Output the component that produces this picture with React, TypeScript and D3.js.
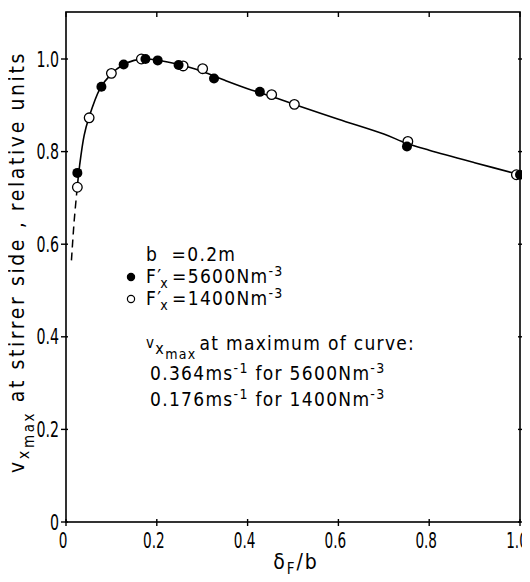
import React, { useEffect, useRef } from "react";
import * as d3 from "d3";

// measured points, 5600 N/m^3 (filled) and 1400 N/m^3 (open)
const filledX = [0.025, 0.078, 0.127, 0.175, 0.202, 0.248, 0.326, 0.427, 0.751, 1.0];
const filledY = [0.754, 0.94, 0.988, 1.0, 0.997, 0.987, 0.958, 0.929, 0.811, 0.75];
const openX = [0.025, 0.051, 0.1, 0.166, 0.258, 0.301, 0.453, 0.503, 0.753, 0.992];
const openY = [0.723, 0.873, 0.969, 1.0, 0.985, 0.979, 0.923, 0.902, 0.822, 0.75];

// fitted curve (solid) and its extrapolated start (dashed)
const curveX = [0.025, 0.03, 0.04, 0.05, 0.075, 0.1, 0.125, 0.15, 0.175, 0.2, 0.25, 0.3, 0.35, 0.4, 0.45, 0.5, 0.6, 0.7, 0.75, 0.8, 0.9, 1.0];
const curveY = [0.725, 0.77, 0.835, 0.872, 0.936, 0.968, 0.987, 0.997, 1.0, 0.998, 0.988, 0.973, 0.954, 0.936, 0.92, 0.903, 0.87, 0.838, 0.818, 0.803, 0.776, 0.75];
const dashX = [0.012, 0.018, 0.025];
const dashY = [0.565, 0.65, 0.725];

const xTicks = [0, 0.2, 0.4, 0.6, 0.8, 1.0];
const yTicks = [0, 0.2, 0.4, 0.6, 0.8, 1.0];
const xTickLabels = ["0", "0.2", "0.4", "0.6", "0.8", "1.0"];
const yTickLabels = ["0", "0.2", "0.4", "0.6", "0.8", "1.0"];

const FONT = "'DejaVu Sans Condensed', 'DejaVu Sans', sans-serif";

export default function App() {
  const ref = useRef<SVGSVGElement>(null);

  useEffect(() => {
    const W = 530, H = 582;
    const margin = { top: 12, right: 10, bottom: 60, left: 66 };
    const svg = d3.select(ref.current);
    svg.selectAll("*").remove();

    const x = d3.scaleLinear().domain([0, 1]).range([margin.left, W - margin.right]);
    const y = d3.scaleLinear().domain([0, 1]).range([H - margin.bottom, 59]);
    const top = margin.top, bottom = H - margin.bottom;
    const left = margin.left, right = W - margin.right;

    const g = svg.append("g").attr("font-family", FONT).attr("fill", "#000");

    // frame
    g.append("rect")
      .attr("x", left).attr("y", top)
      .attr("width", right - left).attr("height", bottom - top)
      .attr("fill", "none").attr("stroke", "#000").attr("stroke-width", 1.6);

    // ticks
    xTicks.forEach((t) => {
      g.append("line").attr("x1", x(t)).attr("x2", x(t)).attr("y1", bottom - 3).attr("y2", bottom + 4)
        .attr("stroke", "#000").attr("stroke-width", 1.4);
      g.append("line").attr("x1", x(t)).attr("x2", x(t)).attr("y1", top).attr("y2", top + 5)
        .attr("stroke", "#000").attr("stroke-width", 1.4);
    });
    yTicks.forEach((t) => {
      g.append("line").attr("x1", left - 5).attr("x2", left + 2).attr("y1", y(t)).attr("y2", y(t))
        .attr("stroke", "#000").attr("stroke-width", 1.4);
      g.append("line").attr("x1", right - 2).attr("x2", right + 4).attr("y1", y(t)).attr("y2", y(t))
        .attr("stroke", "#000").attr("stroke-width", 1.4);
    });

    // tick labels: tall narrow lettering
    g.selectAll(".xl").data(xTicks).enter().append("text")
      .attr("transform", (d) => `translate(${x(d) - 3},${bottom + 26}) scale(0.72,1)`)
      .attr("text-anchor", "middle").attr("font-size", 21)
      .text((d, i) => xTickLabels[i]);
    g.selectAll(".yl").data(yTicks).enter().append("text")
      .attr("transform", (d) => `translate(${left - 7},${y(d) + 7.5}) scale(0.75,1)`)
      .attr("text-anchor", "end").attr("font-size", 21)
      .text((d, i) => yTickLabels[i]);

    // curve
    const line = d3.line<number>().x((d, i) => x(curveX[i])).y((d, i) => y(curveY[i])).curve(d3.curveCatmullRom);
    g.append("path").datum(curveY).attr("d", line).attr("fill", "none").attr("stroke", "#000").attr("stroke-width", 1.6);
    const dline = d3.line<number>().x((d, i) => x(dashX[i])).y((d, i) => y(dashY[i])).curve(d3.curveCatmullRom);
    g.append("path").datum(dashY).attr("d", dline).attr("fill", "none").attr("stroke", "#000")
      .attr("stroke-width", 1.5).attr("stroke-dasharray", "8,5");

    // points
    g.selectAll(".op").data(openX).enter().append("circle")
      .attr("cx", (d) => x(d)).attr("cy", (d, i) => y(openY[i])).attr("r", 4.8)
      .attr("fill", "#fff").attr("stroke", "#000").attr("stroke-width", 1.3);
    g.selectAll(".fp").data(filledX).enter().append("circle")
      .attr("cx", (d) => x(d)).attr("cy", (d, i) => y(filledY[i])).attr("r", 5)
      .attr("fill", "#000");

    // axis titles
    const xt = g.append("text").attr("x", 296).attr("y", 569).attr("text-anchor", "middle")
      .attr("font-size", 21).attr("letter-spacing", 2);
    xt.append("tspan").text("δ");
    xt.append("tspan").attr("font-size", 15).attr("dy", 5).text("F");
    xt.append("tspan").attr("dy", -5).text("/b");

    const yt = g.append("text").attr("transform", "translate(24,262) rotate(-90)")
      .attr("text-anchor", "middle").attr("font-size", 21).attr("letter-spacing", 2.6);
    yt.append("tspan").text("v");
    yt.append("tspan").attr("font-size", 16).attr("dy", 5).text("x");
    yt.append("tspan").attr("font-size", 15).attr("dy", 5).text("max");
    yt.append("tspan").attr("dy", -10).text(" at stirrer side , relative units");

    // legend
    const lx = 146;
    const ls = 1.3;
    g.append("text").attr("x", lx).attr("y", 261).attr("font-size", 19).attr("letter-spacing", ls)
      .style("white-space", "pre").text("b  =0.2m");
    const rows = [
      { y: 283, val: "=5600Nm", filled: true },
      { y: 305, val: "=1400Nm", filled: false },
    ];
    rows.forEach((r) => {
      g.append("circle").attr("cx", 131).attr("cy", r.y - 6).attr("r", 3.6)
        .attr("fill", r.filled ? "#000" : "#fff").attr("stroke", "#000").attr("stroke-width", 1.2);
      const t = g.append("text").attr("x", lx).attr("y", r.y).attr("font-size", 19).attr("letter-spacing", ls);
      t.append("tspan").text("F′");
      t.append("tspan").attr("font-size", 14).attr("dx", -2).attr("dy", 5).text("x");
      t.append("tspan").attr("dx", 3).attr("dy", -5).text(r.val);
      t.append("tspan").attr("font-size", 14).attr("dy", -7).text("-3");
    });

    const vt = g.append("text").attr("x", lx).attr("y", 350).attr("font-size", 19).attr("letter-spacing", ls);
    vt.append("tspan").attr("font-size", 15).attr("dy", -2).text("v");
    vt.append("tspan").attr("font-size", 16).attr("dy", 6).text("x");
    vt.append("tspan").attr("font-size", 14).attr("dy", 5).text("max");
    vt.append("tspan").attr("dx", 3).attr("dy", -9).text("at maximum of curve:");

    const maxRows = [
      { y: 380, a: "0.364ms", b: " for 5600Nm" },
      { y: 406, a: "0.176ms", b: " for 1400Nm" },
    ];
    maxRows.forEach((r) => {
      const t = g.append("text").attr("x", 150).attr("y", r.y).attr("font-size", 19).attr("letter-spacing", ls);
      t.append("tspan").text(r.a);
      t.append("tspan").attr("font-size", 14).attr("dy", -7).text("-1");
      t.append("tspan").attr("dy", 7).text(r.b);
      t.append("tspan").attr("font-size", 14).attr("dy", -7).text("-3");
    });
  }, []);

  return (
    <div style={{ margin: -8 }}>
      <svg ref={ref} width={530} height={582} style={{ display: "block", background: "#fff" }} />
    </div>
  );
}
